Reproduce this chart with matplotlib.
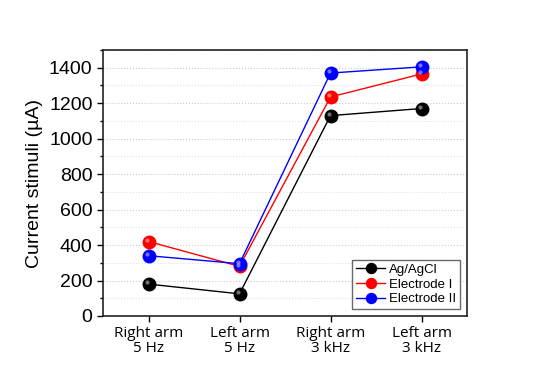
import matplotlib
matplotlib.use("Agg")
import matplotlib.pyplot as plt
from matplotlib.ticker import MultipleLocator
from matplotlib.transforms import ScaledTranslation

categories = ["Right arm\n5 Hz", "Left arm\n5 Hz", "Right arm\n3 kHz", "Left arm\n3 kHz"]
ag_agcl = [180, 125, 1130, 1170]
electrode_1 = [420, 280, 1235, 1365]
electrode_2 = [340, 295, 1370, 1405]

series = [
    ("Ag/AgCl", ag_agcl, "black", "#000000"),
    ("Electrode I", electrode_1, "red", "#ff0000"),
    ("Electrode II", electrode_2, "blue", "#0000ff"),
]

plt.rcParams["font.family"] = ["Liberation Sans", "DejaVu Sans"]

fig = plt.figure(figsize=(5.5, 3.9), dpi=100)
ax = fig.add_axes([103 / 550, 1 - 316 / 390, (467 - 103) / 550, (316 - 50) / 390])

# shift for the shine spot on the sphere-like markers
shine = ax.transData + ScaledTranslation(-1.2 / 72, 1.2 / 72, fig.dpi_scale_trans)

x = list(range(len(categories)))
for label, vals, col, mcol in series:
    ax.plot(x, vals, "-", color=col, lw=1.0, zorder=3, label=label,
            marker="o", markersize=9, markerfacecolor=mcol, markeredgecolor=mcol)
    ax.plot(x, vals, "o", markersize=3, color="white", alpha=0.45,
            zorder=4, markeredgewidth=0, transform=shine)

ax.set_xlim(-0.5, 3.5)
ax.set_ylim(0, 1500)
ax.set_yticks(range(0, 1401, 200))
ax.yaxis.set_minor_locator(MultipleLocator(100))
ax.set_xticks(x)
ax.set_xticklabels(categories, fontsize=11, family=["Open Sans", "DejaVu Sans"], linespacing=0.95)
ax.tick_params(axis="y", labelsize=14, direction="out", length=4, width=1)
ax.tick_params(axis="y", which="minor", direction="out", length=2.5, width=1)
ax.tick_params(axis="x", direction="out", length=4, width=1)

ax.grid(True, axis="y", which="major", linestyle=":", color="#cccccc", lw=0.8, zorder=0)
ax.grid(True, axis="y", which="minor", linestyle=":", color="#e0e0e0", lw=0.8, zorder=0)

for s in ax.spines.values():
    s.set_linewidth(1.2)
    s.set_color("#222222")

ax.set_ylabel("Current stimuli (\u00b5A)", fontsize=14)

leg = ax.legend(loc="lower right", fontsize=9.5, frameon=True, fancybox=False,
                edgecolor="#444444", handlelength=2.2, borderpad=0.3,
                labelspacing=0.2, handletextpad=0.3, markerscale=0.8)
leg.get_frame().set_linewidth(1.0)

fig.savefig("out.png", dpi=100)
